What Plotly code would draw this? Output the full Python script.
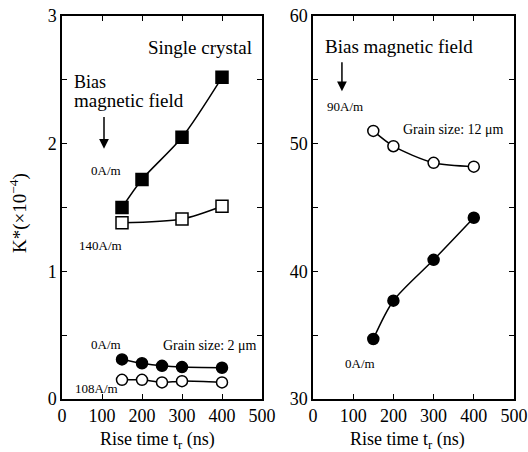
import plotly.graph_objects as go

# ---- data ----
rise_sc_0 = [150, 200, 300, 400]
k_sc_0 = [1.50, 1.72, 2.05, 2.52]          # single crystal, 0 A/m
rise_sc_140 = [150, 300, 400]
k_sc_140 = [1.38, 1.41, 1.51]              # single crystal, 140 A/m
rise_2um = [150, 200, 250, 300, 400]
k_2um_0 = [0.31, 0.28, 0.26, 0.25, 0.245]  # grain 2 um, 0 A/m
k_2um_108 = [0.15, 0.15, 0.13, 0.14, 0.13] # grain 2 um, 108 A/m
rise_12um = [150, 200, 300, 400]
k_12um_90 = [51.0, 49.8, 48.5, 48.2]       # grain 12 um, 90 A/m
k_12um_0 = [34.7, 37.7, 40.9, 44.2]        # grain 12 um, 0 A/m

x_ticks = [0, 100, 200, 300, 400, 500]
y1_ticks = [0, 0.5, 1, 1.5, 2, 2.5, 3]
y1_text = ["0", "", "1", "", "2", "", "3"]
y2_ticks = [30, 35, 40, 45, 50, 55, 60]
y2_text = ["30", "", "40", "", "50", "", "60"]

FONT = "Liberation Serif"
fig = go.Figure()

def series(x, y, symbol, fill, xa, ya, size):
    fig.add_trace(go.Scatter(
        x=x, y=y, mode="lines+markers", xaxis=xa, yaxis=ya,
        line=dict(color="black", width=1.5, shape="spline", smoothing=0.8),
        marker=dict(symbol=symbol, size=size, color=fill,
                    line=dict(color="black", width=1.5)),
        showlegend=False))

series(rise_sc_0, k_sc_0, "square", "black", "x", "y", 12)
series(rise_sc_140, k_sc_140, "square", "white", "x", "y", 12)
series(rise_2um, k_2um_0, "circle", "black", "x", "y", 11)
series(rise_2um, k_2um_108, "circle", "white", "x", "y", 11)
series(rise_12um, k_12um_90, "circle", "white", "x2", "y2", 11)
series(rise_12um, k_12um_0, "circle", "black", "x2", "y2", 11)

ax_common = dict(showline=True, mirror="ticks", linecolor="black", linewidth=1.5,
                 ticks="inside", ticklen=5, tickwidth=1, tickcolor="black",
                 showgrid=False, zeroline=False, automargin=False,
                 ticklabeloverflow="allow",
                 tickfont=dict(family=FONT, size=18, color="black"))

ydom = [1 - 399 / 452, 1 - 16 / 452]
fig.update_layout(
    width=528, height=452, margin=dict(l=0, r=0, t=0, b=0, autoexpand=False),
    paper_bgcolor="white", plot_bgcolor="white",
    font=dict(family=FONT, color="black"),
    xaxis=dict(domain=[62 / 528, 262 / 528], range=[0, 500], tickvals=x_ticks, anchor="y", **ax_common),
    yaxis=dict(domain=ydom, range=[0, 3], tickvals=y1_ticks, ticktext=y1_text, anchor="x", **ax_common),
    xaxis2=dict(domain=[313 / 528, 514 / 528], range=[0, 500], tickvals=x_ticks, anchor="y2", **ax_common),
    yaxis2=dict(domain=ydom, range=[30, 60], tickvals=y2_ticks, ticktext=y2_text, anchor="x2", **ax_common),
)

def txt(text, x, y, xr, yr, size, xanchor="center"):
    fig.add_annotation(text=text, x=x, y=y, xref=xr, yref=yr, showarrow=False,
                       xanchor=xanchor, yanchor="middle",
                       font=dict(family=FONT, size=size, color="black"))

# left panel
txt("Single crystal", 345, 2.75, "x", "y", 19)
txt("Bias", 25, 2.48, "x", "y", 18, "left")
txt("magnetic field", 25, 2.34, "x", "y", 19, "left")
txt("0A/m", 110, 1.79, "x", "y", 13)
txt("140A/m", 95, 1.20, "x", "y", 13)
txt("0A/m", 110, 0.43, "x", "y", 13)
txt("Grain size: 2 \u03bcm", 370, 0.42, "x", "y", 14)
txt("108A/m", 85, 0.08, "x", "y", 13)
fig.add_annotation(x=105, y=1.96, ax=105, ay=2.22, xref="x", yref="y", axref="x", ayref="y",
                   text="", showarrow=True, arrowhead=2, arrowsize=1.3, arrowwidth=1.5, arrowcolor="black")

# right panel
txt("Bias magnetic field", 215, 57.65, "x2", "y2", 19)
txt("90A/m", 79, 52.9, "x2", "y2", 13)
txt("Grain size: 12 \u03bcm", 349, 51.1, "x2", "y2", 14)
txt("0A/m", 116, 32.75, "x2", "y2", 13)
fig.add_annotation(x=72, y=54.1, ax=72, ay=56.5, xref="x2", yref="y2", axref="x2", ayref="y2",
                   text="", showarrow=True, arrowhead=2, arrowsize=1.3, arrowwidth=1.5, arrowcolor="black")

# axis titles
fig.add_annotation(text="K*(\u00d710<sup>\u22124</sup>)", x=18 / 528, y=1 - 213 / 452, xref="paper", yref="paper",
                   showarrow=False, textangle=-90, xanchor="center", yanchor="middle",
                   font=dict(family=FONT, size=19, color="black"))
fig.add_annotation(text="Rise time t<sub>r</sub> (ns)", x=157 / 528, y=1 - 440 / 452, xref="paper", yref="paper",
                   showarrow=False, xanchor="center", yanchor="middle",
                   font=dict(family=FONT, size=18, color="black"))
fig.add_annotation(text="Rise time t<sub>r</sub> (ns)", x=407 / 528, y=1 - 440 / 452, xref="paper", yref="paper",
                   showarrow=False, xanchor="center", yanchor="middle",
                   font=dict(family=FONT, size=18, color="black"))

fig.write_html("out.html")
